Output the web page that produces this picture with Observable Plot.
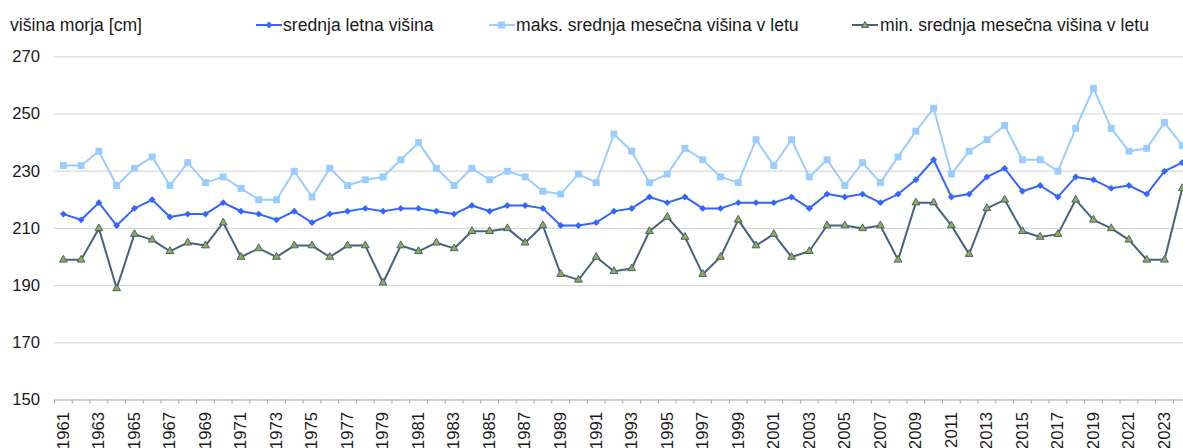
<!DOCTYPE html>
<html>
<head>
<meta charset="utf-8">
<script src="https://cdn.jsdelivr.net/npm/d3@7"></script>
<script src="https://cdn.jsdelivr.net/npm/@observablehq/plot@0.6"></script>
<style>
  html, body { margin: 0; padding: 0; background: #fff; }
  body { width: 1183px; height: 448px; overflow: hidden; font-family: "Liberation Sans", Arial, sans-serif; color: #1a1a1a; }
  #head { position: relative; height: 44px; }
  #head .t { position: absolute; top: 14px; font-size: 17.6px; line-height: 22px; white-space: nowrap; }
  #head svg { position: absolute; top: 18px; }
  #chart svg { display: block; overflow: hidden; }
</style>
</head>
<body>
<div id="head"></div>
<div id="chart"></div>
<script>
const years = d3.range(1961, 2025);
const yearLabels = d3.range(1961, 2025, 2);
const yTicks = [150, 170, 190, 210, 230, 250, 270];
const gridTicks = [170, 190, 210, 230, 250, 270];

const meanLevel = [215,213,219,211,217,220,214,215,215,219,
                   216,215,213,216,212,215,216,217,216,217,
                   217,216,215,218,216,218,218,217,211,211,
                   212,216,217,221,219,221,217,217,219,219,
                   219,221,217,222,221,222,219,222,227,234,
                   221,222,228,231,223,225,221,228,227,224,
                   225,222,230,233];
const maxLevel = [232,232,237,225,231,235,225,233,226,228,
                  224,220,220,230,221,231,225,227,228,234,
                  240,231,225,231,227,230,228,223,222,229,
                  226,243,237,226,229,238,234,228,226,241,
                  232,241,228,234,225,233,226,235,244,252,
                  229,237,241,246,234,234,230,245,259,245,
                  237,238,247,239];
const minLevel = [199,199,210,189,208,206,202,205,204,212,
                  200,203,200,204,204,200,204,204,191,204,
                  202,205,203,209,209,210,205,211,194,192,
                  200,195,196,209,214,207,194,200,213,204,
                  208,200,202,211,211,210,211,199,219,219,
                  211,201,217,220,209,207,208,220,213,210,
                  206,199,199,224];

const seriesNames = ["srednja letna višina", "maks. srednja mesečna višina v letu", "min. srednja mesečna višina v letu"];
const yTitle = "višina morja [cm]";

const colMean = "#3366ff";
const colMax = "#99ccff";
const colMinLine = "#46627f";
const colMinFill = "#8fae45";

const toRows = (vals) => years.map((y, i) => ({year: y, v: vals[i]}));
const rMean = toRows(meanLevel), rMax = toRows(maxLevel), rMin = toRows(minLevel);
const bounds = d3.range(1960.5, 2025, 1);

// header: title + legend
const head = document.getElementById("head");
function addText(txt, left) {
  const s = document.createElement("span");
  s.className = "t"; s.textContent = txt; s.style.left = left + "px";
  head.appendChild(s);
}
function addSwatch(left, color, marker) {
  const ns = "http://www.w3.org/2000/svg";
  const svg = document.createElementNS(ns, "svg");
  svg.setAttribute("width", 28); svg.setAttribute("height", 14);
  svg.style.left = left + "px";
  svg.innerHTML = `<line x1="0" x2="26" y1="7" y2="7" stroke="${color}" stroke-width="2"/>` + marker;
  head.appendChild(svg);
}
addText(yTitle, 10);
addSwatch(256, colMean, `<path d="M13,3.6L16.4,7L13,10.4L9.6,7Z" fill="${colMean}"/>`);
addText(seriesNames[0], 283);
addSwatch(489, colMax, `<rect x="9" y="3.5" width="7" height="7" fill="${colMax}"/>`);
addText(seriesNames[1], 516);
addSwatch(852, colMinLine, `<path d="M13,3.4L16.5,9.5L9.5,9.5Z" fill="${colMinFill}" stroke="${colMinLine}" stroke-width="1"/>`);
addText(seriesNames[2], 880);

const H = 404;
const chart = Plot.plot({
  width: 1183,
  height: H,
  marginLeft: 54,
  marginRight: 0,
  marginTop: 12.3,
  marginBottom: 48.5,
  x: {type: "linear", domain: [1960.5, 2024.5], range: [54, 54 + 64 * 17.76]},
  y: {domain: [150, 270]},
  style: {fontFamily: "'Liberation Sans', Arial, sans-serif", fontSize: "16.7px", color: "#1a1a1a", background: "white", overflow: "hidden"},
  marks: [
    Plot.gridY(gridTicks, {stroke: "#d9d9d9", strokeOpacity: 1, strokeWidth: 1.2}),
    Plot.axisY(yTicks, {tickSize: 0, tickPadding: 14.5, label: null, fill: "#1a1a1a", fontSize: 16.7}),
    Plot.ruleY([150], {stroke: "#a6a6a6", strokeWidth: 1.2}),
    Plot.axisX(bounds, {tickSize: 4, tickFormat: () => "", label: null, stroke: "#a6a6a6"}),
    Plot.axisX(yearLabels, {tickSize: 0, tickPadding: 12, tickRotate: -90, tickFormat: d => String(d), label: null, fill: "#1a1a1a", fontSize: 16.7}),
    Plot.line(rMax, {x: "year", y: "v", stroke: colMax, strokeWidth: 2}),
    Plot.dot(rMax, {x: "year", y: "v", symbol: "square", r: 3.9, fill: colMax, stroke: "none"}),
    Plot.line(rMean, {x: "year", y: "v", stroke: colMean, strokeWidth: 2}),
    Plot.dot(rMean, {x: "year", y: "v", symbol: "diamond2", r: 3.1, fill: colMean, stroke: "none"}),
    Plot.line(rMin, {x: "year", y: "v", stroke: colMinLine, strokeWidth: 2}),
    Plot.dot(rMin, {x: "year", y: "v", symbol: "triangle", r: 2.9, fill: colMinFill, stroke: colMinLine, strokeWidth: 1})
  ]
});
document.getElementById("chart").appendChild(chart);
</script>
</body>
</html>
